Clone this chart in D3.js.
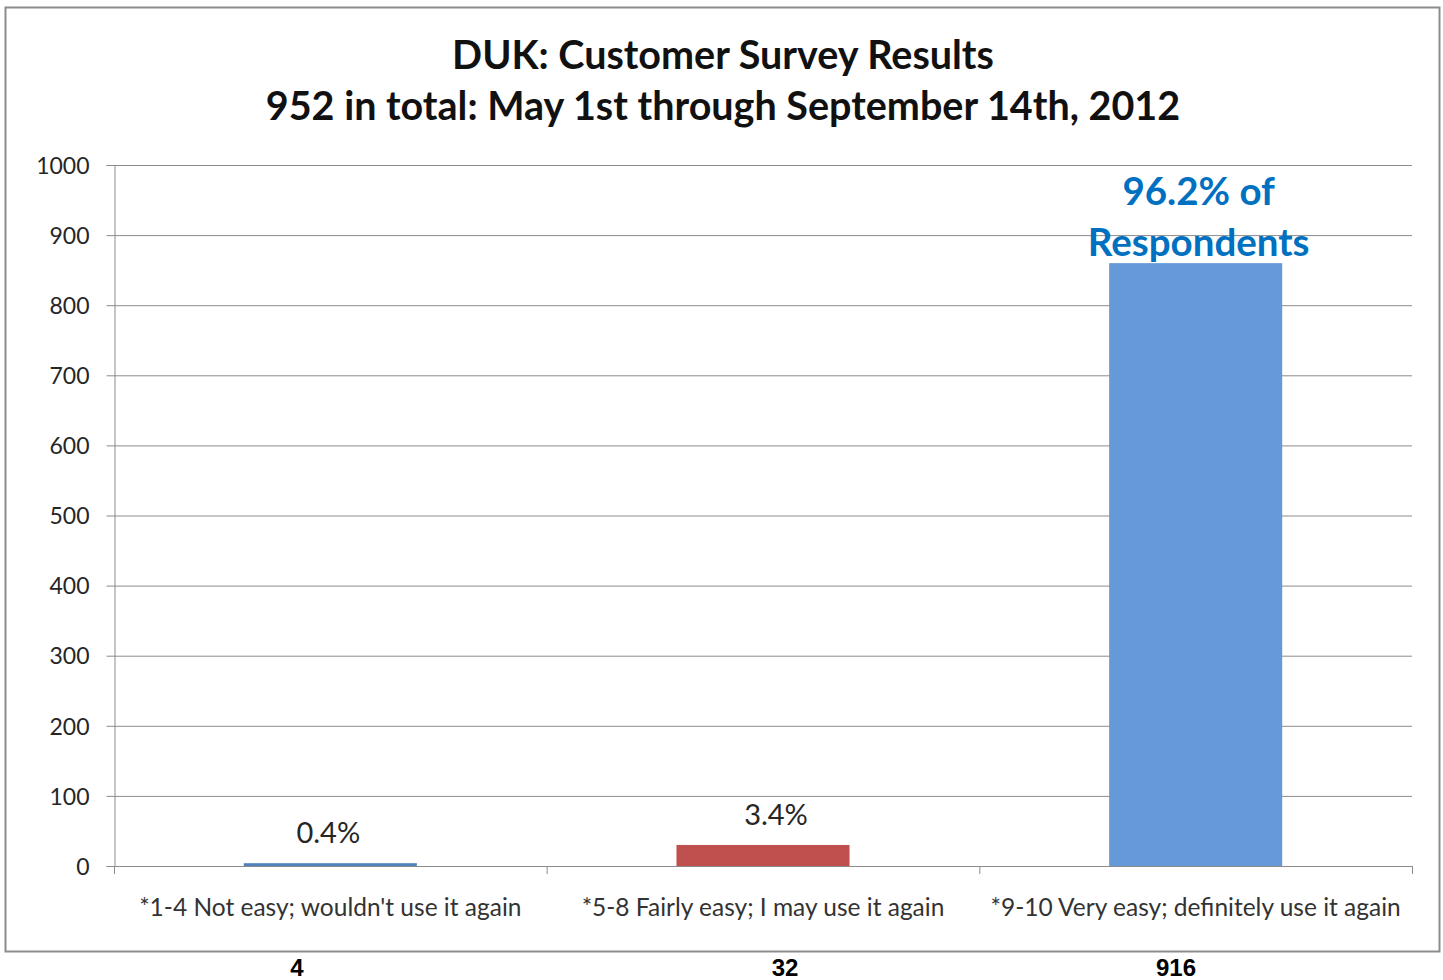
<!DOCTYPE html>
<html>
    <head>
        <meta charset="UTF-8">
        <script src="https://d3js.org/d3.v7.min.js"></script>
        <style>
            body{ margin: 0; background: white; }
            text{ font-family: Lato, "Open Sans", sans-serif; }
            .tick-label{ font-size: 23px; fill: #262626; }
            .cat-label{ font-size: 24.5px; fill: #333; }
            .count{ font-family: "Liberation Sans", Arial, sans-serif; font-size: 24px; font-weight: bold; fill: black; }
        </style>
    </head>
    <body>
        <svg id="chart" width="1443" height="980"></svg>
    </body>
    <script>
        // data
        var categories = ["*1-4 Not easy; wouldn't use it again", "*5-8 Fairly easy; I may use it again", "*9-10 Very easy; definitely use it again"]
        var values = [4, 30, 860]
        var pctLabels = ["0.4%", "3.4%", "96.2% of\nRespondents"]
        var counts = ["4", "32", "916"]
        var yTicks = [0, 100, 200, 300, 400, 500, 600, 700, 800, 900, 1000]
        var titleLines = ["DUK: Customer Survey Results", "952 in total: May 1st through September 14th, 2012"]

        var barColors = ["#4F81BD", "#C0504D", "#6699D8"]

        var svg = d3.select("#chart")
        // plot area (note: "top" is taken by window.top)
        var pLeft = 114, pRight = 1412, pTop = 165, pBottom = 866

        // outer frame
        svg.append("rect").attr("x", 5.5).attr("y", 7.5).attr("width", 1434).attr("height", 944)
            .attr("fill", "white").attr("stroke", "#8c8c8c").attr("stroke-width", 2)

        // title
        svg.selectAll(".title").data(titleLines).enter().append("text")
            .attr("class", "title")
            .attr("x", 723).attr("y", function(d, i){ return 69 + i * 51 })
            .attr("text-anchor", "middle")
            .style("font-size", "39.5px").style("font-weight", "bold").style("fill", "#111")
            .text(function(d){ return d })

        var y = d3.scaleLinear().domain([0, 1000]).range([pBottom, pTop])
        var x = d3.scaleBand().domain(categories).range([pLeft, pRight]).paddingInner(0.6).paddingOuter(0.3)

        // gridlines
        svg.append("g").selectAll("line").data(yTicks).enter().append("line")
            .attr("x1", pLeft).attr("x2", pRight)
            .attr("y1", function(d){ return y(d) + 0.5 }).attr("y2", function(d){ return y(d) + 0.5 })
            .attr("stroke", "#8c8c8c").attr("stroke-width", 1)

        // y axis
        var yAxis = svg.append("g").attr("transform", "translate(" + (pLeft + 0.5) + ",0)")
            .call(d3.axisLeft(y).tickValues(yTicks).tickSize(8).tickPadding(17).tickFormat(d3.format("d")))
        yAxis.select(".domain").attr("stroke", "#8c8c8c")
        yAxis.selectAll(".tick line").attr("stroke", "#8c8c8c")
        yAxis.selectAll(".tick text").attr("class", "tick-label").attr("fill", null).attr("dy", "0.36em")

        // x axis separators
        var seps = d3.range(categories.length + 1).map(function(i){ return pLeft + i * x.step() })
        svg.append("g").selectAll("line").data(seps).enter().append("line")
            .attr("x1", function(d){ return d + 0.5 }).attr("x2", function(d){ return d + 0.5 })
            .attr("y1", pBottom).attr("y2", pBottom + 8)
            .attr("stroke", "#8c8c8c")

        // bars
        svg.append("g").selectAll("rect").data(values).enter().append("rect")
            .attr("x", function(d, i){ return x(categories[i]) })
            .attr("width", x.bandwidth())
            .attr("y", function(d){ return y(d) })
            .attr("height", function(d){ return pBottom - y(d) })
            .attr("fill", function(d, i){ return barColors[i] })

        // value labels (Excel nudged them a little off centre)
        var nudge = [-2, 13, 3]
        pctLabels.forEach(function(lbl, i){
            var cx = x(categories[i]) + x.bandwidth() / 2 + nudge[i]
            var lines = lbl.split("\n")
            var big = lines.length > 1
            var t = svg.append("text").attr("text-anchor", "middle")
                .style("font-size", big ? "38.5px" : "29px")
                .style("font-weight", big ? "bold" : "normal")
                .style("fill", big ? "#0070C0" : "#262626")
            var baseY = big ? y(values[i]) - 58 : y(values[i]) - 20
            lines.forEach(function(l, j){
                t.append("tspan").attr("x", cx).attr("y", baseY + j * 51).text(l)
            })
        })

        // category labels
        svg.append("g").selectAll("text").data(categories).enter().append("text")
            .attr("class", "cat-label")
            .attr("x", function(d){ return x(d) + x.bandwidth() / 2 })
            .attr("y", 916)
            .attr("text-anchor", "middle")
            .text(function(d){ return d })

        // counts below frame
        svg.append("g").selectAll("text").data(counts).enter().append("text")
            .attr("class", "count")
            .attr("x", function(d, i){ return [297, 785, 1176][i] })
            .attr("y", 976)
            .attr("text-anchor", "middle")
            .text(function(d){ return d })
    </script>
</html>
